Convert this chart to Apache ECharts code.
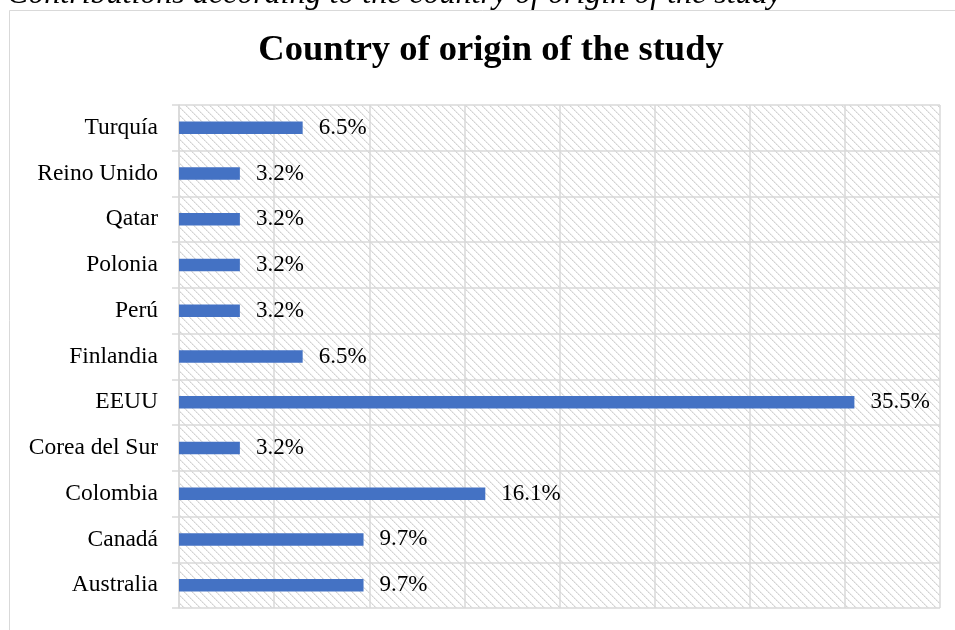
<!DOCTYPE html>
<html>
<head>
<meta charset="utf-8">
<script src="https://cdn.jsdelivr.net/npm/echarts@6/dist/echarts.min.js"></script>
<style>
  html, body { margin: 0; padding: 0; background: #ffffff; }
  #chart { width: 955px; height: 630px; }
</style>
</head>
<body>
<div id="chart"></div>
<script>
// Countries, listed bottom-to-top as the category axis draws them
const countries = ['Australia', 'Canadá', 'Colombia', 'Corea del Sur', 'EEUU', 'Finlandia', 'Perú', 'Polonia', 'Qatar', 'Reino Unido', 'Turquía'];
// Share of studies per country (%)
const shares = [9.7, 9.7, 16.1, 3.2, 35.5, 6.5, 3.2, 3.2, 3.2, 3.2, 6.5];

const captionText = 'Contributions according to the country of origin of the study';
const titleText = 'Country of origin of the study';

// Light diagonal hatch used as the plot background
function makeHatch() {
  const c = document.createElement('canvas');
  c.width = 8; c.height = 8;
  const ctx = c.getContext('2d');
  ctx.fillStyle = '#ffffff';
  ctx.fillRect(0, 0, 8, 8);
  for (let i = 0; i < 8; i++) {
    ctx.fillStyle = i % 2 ? '#e2e2e2' : '#d2d2d2';
    ctx.fillRect(i, i, 1, 1);
    ctx.fillStyle = '#ececec';
    ctx.fillRect((i + 1) % 8, i, 1, 1);
  }
  return c;
}

const serif = '"Liberation Serif", "Times New Roman", serif';
const chart = echarts.init(document.getElementById('chart'), null, { renderer: 'canvas' });

chart.setOption({
  animation: false,
  backgroundColor: '#ffffff',
  title: {
    text: titleText,
    left: 486,
    top: 27,
    textAlign: 'center',
    textStyle: { fontFamily: serif, fontWeight: 'bold', fontSize: 36.5, color: '#000000' }
  },
  graphic: [
    {
      type: 'rect',
      silent: true,
      shape: { x: 9.5, y: 10.5, width: 1000, height: 700 },
      style: { fill: 'none', stroke: '#d9d9d9', lineWidth: 1 }
    },
    {
      type: 'text',
      silent: true,
      x: 7,
      y: 10.5,
      style: {
        text: captionText,
        font: 'italic 32px ' + serif,
        fill: '#000000',
        verticalAlign: 'bottom',
        align: 'left'
      }
    }
  ],
  grid: {
    left: 179,
    right: 15,
    top: 105,
    bottom: 22,
    show: true,
    borderWidth: 0,
    backgroundColor: { image: makeHatch(), repeat: 'repeat' }
  },
  xAxis: {
    type: 'value',
    min: 0,
    max: 40,
    interval: 5,
    axisLabel: { show: false },
    axisLine: { show: false },
    axisTick: { show: false },
    splitLine: { show: true, lineStyle: { color: '#d9d9d9', width: 1.5 } }
  },
  yAxis: {
    type: 'category',
    data: countries,
    axisLine: { show: true, lineStyle: { color: '#d9d9d9', width: 1.5 } },
    axisTick: { show: true, length: 7, lineStyle: { color: '#d9d9d9', width: 1.5 } },
    splitLine: { show: true, lineStyle: { color: '#d9d9d9', width: 1.5 } },
    axisLabel: { margin: 21, fontFamily: serif, fontSize: 23.5, color: '#000000' }
  },
  series: [{
    type: 'bar',
    data: shares,
    barWidth: 12.5,
    itemStyle: { color: '#4472C4' },
    label: {
      show: true,
      position: 'right',
      distance: 16,
      fontFamily: serif,
      fontSize: 23,
      color: '#000000',
      formatter: p => p.value.toFixed(1) + '%'
    }
  }]
});
</script>
</body>
</html>
